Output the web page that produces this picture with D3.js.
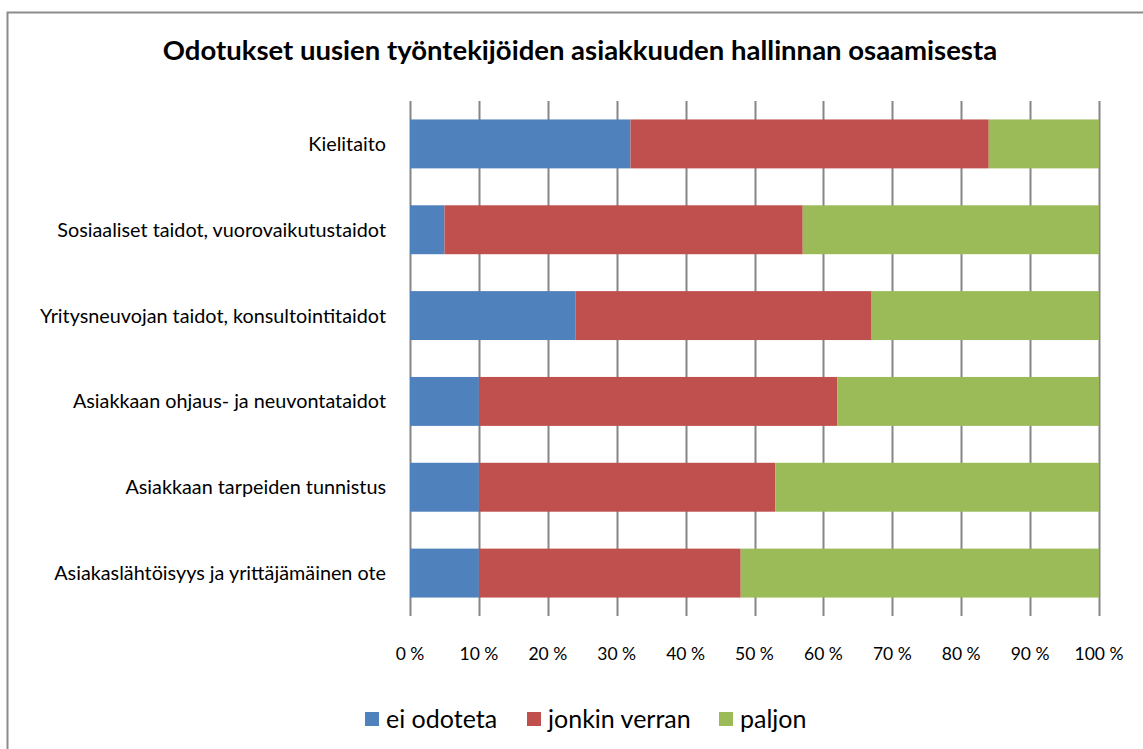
<!DOCTYPE html>
<meta charset="utf-8">
<script src="https://d3js.org/d3.v7.min.js"></script>
<style>
  body { margin: 0; background: #fff; }
  text { font-family: Lato, "Open Sans", sans-serif; fill: #000; }
</style>
<div id="chart"></div>
<script>

// data
var categories = [
  "Kielitaito",
  "Sosiaaliset taidot, vuorovaikutustaidot",
  "Yritysneuvojan taidot, konsultointitaidot",
  "Asiakkaan ohjaus- ja neuvontataidot",
  "Asiakkaan tarpeiden tunnistus",
  "Asiakaslähtöisyys ja yrittäjämäinen ote"
];
var seriesNames = ["ei odoteta", "jonkin verran", "paljon"];
var eiOdoteta    = [32, 5, 24, 10, 10, 10];
var jonkinVerran = [52, 52, 43, 52, 43, 38];
var paljon       = [16, 43, 33, 38, 47, 52];
var ticks = [0, 10, 20, 30, 40, 50, 60, 70, 80, 90, 100];
var colors = ["#4f81bd", "#c0504d", "#9bbb59"];

var W = 1143, H = 749;
var margin = {top: 101, right: 44, bottom: 133, left: 410},
    width = W - margin.left - margin.right,
    height = H - margin.top - margin.bottom;

var svgRoot = d3.select("#chart").append("svg")
  .attr("width", W)
  .attr("height", H);

// outer frame
svgRoot.append("rect")
  .attr("x", 7.5).attr("y", 12.5)
  .attr("width", W + 20).attr("height", H + 20)
  .attr("fill", "none")
  .attr("stroke", "#8c8c8c")
  .attr("stroke-width", 2);

svgRoot.append("text")
  .attr("x", 580).attr("y", 60)
  .attr("text-anchor", "middle")
  .style("font-size", "27.5px")
  .style("font-weight", "bold")
  .text("Odotukset uusien työntekijöiden asiakkuuden hallinnan osaamisesta");

var svg = svgRoot.append("g")
  .attr("transform", "translate(" + margin.left + "," + margin.top + ")");

var x = d3.scaleLinear().domain([0, 100]).range([0, width]);
var y = d3.scaleBand().domain(categories).range([0, height]).paddingInner(0.43).paddingOuter(0.215);

// gridlines
svg.selectAll("line.grid")
  .data(ticks)
  .enter().append("line")
    .attr("class", "grid")
    .attr("x1", function(d) { return Math.round(x(d)) + 0.5; })
    .attr("x2", function(d) { return Math.round(x(d)) + 0.5; })
    .attr("y1", 0)
    .attr("y2", height)
    .attr("stroke", "#868686")
    .attr("stroke-width", 2);

// stacked data
var rows = categories.map(function(c, i) {
  return {cat: c, vals: [eiOdoteta[i], jonkinVerran[i], paljon[i]]};
});

rows.forEach(function(r) {
  var acc = 0;
  r.vals.forEach(function(v, j) {
    svg.append("rect")
      .attr("x", x(acc))
      .attr("y", y(r.cat))
      .attr("width", x(acc + v) - x(acc))
      .attr("height", y.bandwidth())
      .attr("fill", colors[j]);
    acc += v;
  });
});

// category labels
svg.selectAll("text.cat")
  .data(categories)
  .enter().append("text")
    .attr("class", "cat")
    .attr("x", -24)
    .attr("y", function(d) { return y(d) + y.bandwidth() / 2; })
    .attr("dy", "0.35em")
    .attr("text-anchor", "end")
    .style("font-size", "19.8px")
    .text(function(d) { return d; });

// x tick labels
svg.selectAll("text.tick")
  .data(ticks)
  .enter().append("text")
    .attr("class", "tick")
    .attr("x", function(d) { return x(d); })
    .attr("y", height + 44)
    .attr("text-anchor", "middle")
    .style("font-size", "17.5px")
    .text(function(d) { return d + " %"; });

// legend
var legendX = [365, 527, 719];
var legend = svgRoot.selectAll("g.legend")
  .data(seriesNames)
  .enter().append("g")
    .attr("class", "legend")
    .attr("transform", function(d, i) { return "translate(" + legendX[i] + ",712)"; });
legend.append("rect")
  .attr("width", 14).attr("height", 14)
  .attr("fill", function(d, i) { return colors[i]; });
legend.append("text")
  .attr("x", 21).attr("y", 7)
  .attr("dy", "0.36em")
  .style("font-size", "25px")
  .text(function(d) { return d; });

</script>
